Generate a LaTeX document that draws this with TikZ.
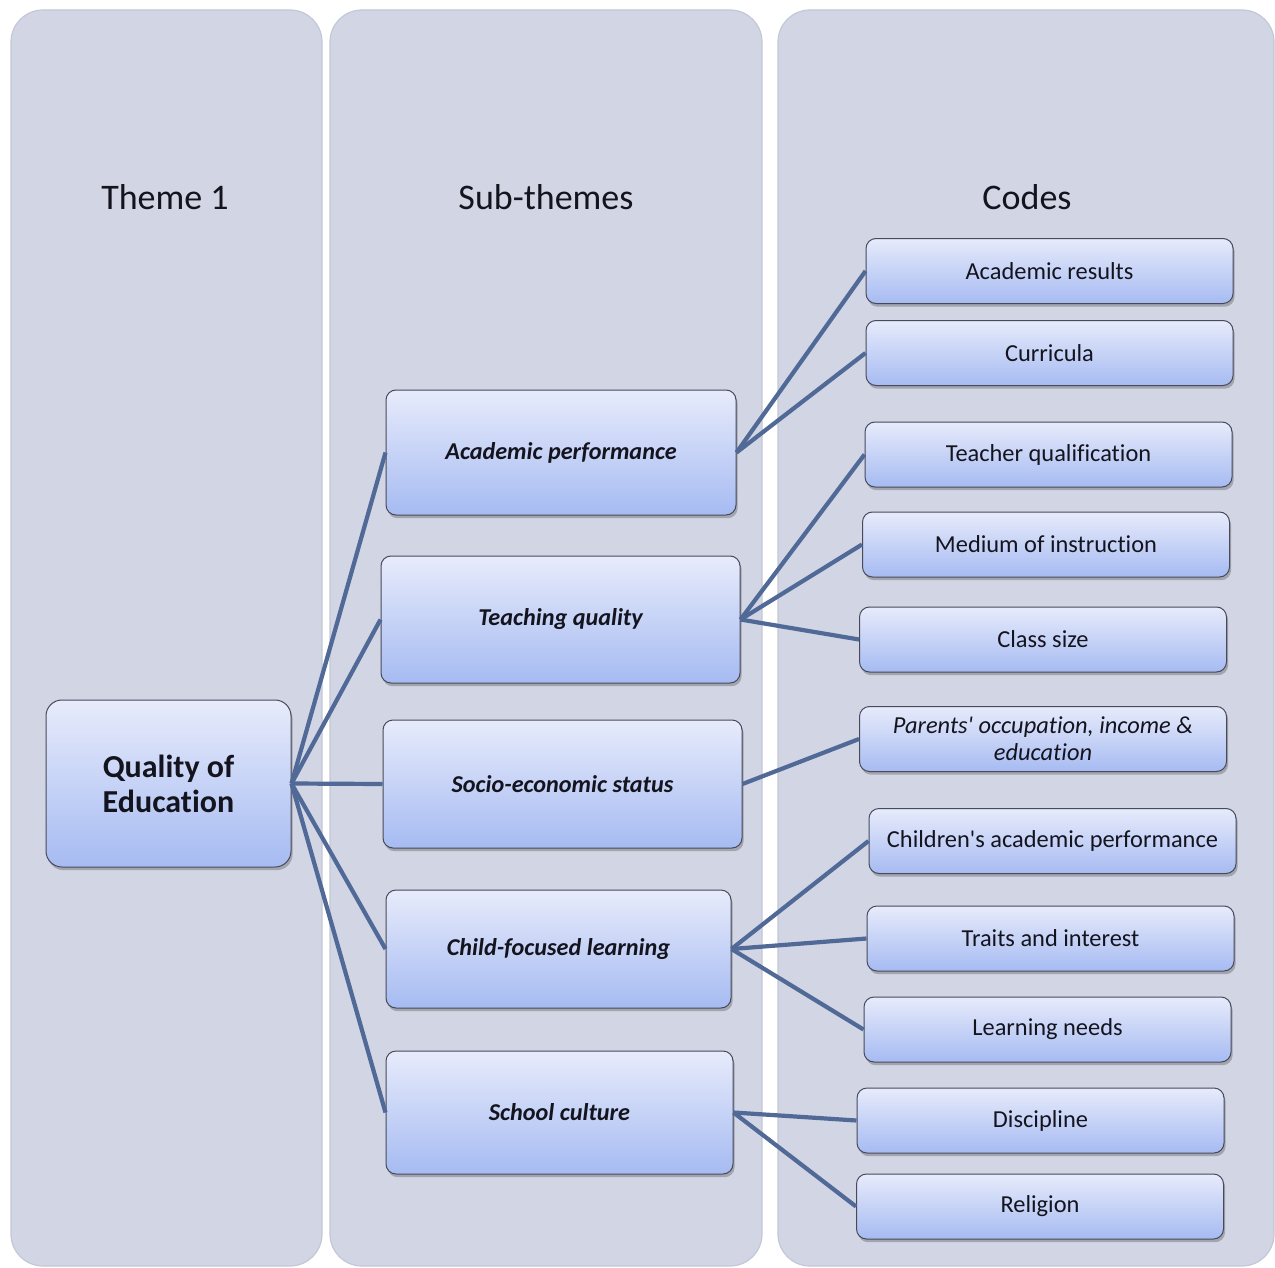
\documentclass[tikz,border=0pt]{standalone}
\usepackage{fontspec}
\setmainfont{Carlito}[Ligatures={NoCommon,TeXOff}]
\usetikzlibrary{shadows}

\definecolor{colbg}{RGB}{209,213,228}
\definecolor{coledge}{RGB}{196,200,214}
\definecolor{linkc}{RGB}{80,105,150}
\definecolor{boxtop}{RGB}{231,235,251}
\definecolor{boxbot}{RGB}{166,187,242}
\definecolor{boxline}{RGB}{72,74,90}
\definecolor{ink}{RGB}{20,20,30}

\begin{document}
\begin{tikzpicture}[x=0.5pt,y=-0.5pt,
  lane/.style={fill=colbg, draw=coledge, line width=0.6pt, rounded corners=16pt},
  lanehead/.style={font=\fontsize{18}{21}\selectfont, text=ink},
  box/.style={draw=boxline, line width=0.5pt, rounded corners=5pt,
    top color=boxtop, bottom color=boxbot, align=center, inner sep=2pt,
    text=ink,
    drop shadow={shadow xshift=0.8pt, shadow yshift=-1.6pt, opacity=0.35, fill=black!70}},
  rootbox/.style={box, rounded corners=8pt, font=\bfseries\fontsize{16}{17.5}\selectfont},
  subbox/.style={box, font=\bfseries\itshape\fontsize{12.1}{14}\selectfont},
  codebox/.style={box, font=\fontsize{12.2}{13.5}\selectfont,
    minimum width=183.5pt, minimum height=32.5pt},
  link/.style={draw=linkc, line width=2.1pt}
]
% canvas
\useasboundingbox (0,0) rectangle (1275,1268);
\fill[white] (0,0) rectangle (1275,1268);

% column lanes
\draw[lane] (11,10) rectangle (322,1266);
\draw[lane] (330,10) rectangle (762,1266);
\draw[lane] (778,10) rectangle (1274,1266);

\node[lanehead] (h1) at (165,197) {Theme 1};
\node[lanehead] (h2) at (546,197) {Sub-themes};
\node[lanehead] (h3) at (1027,197) {Codes};

% theme
\node[rootbox, minimum width=122.5pt, minimum height=83.5pt] (q) at (168.5,783.5) {Quality of\\Education};

% sub-themes
\node[subbox, minimum width=175pt, minimum height=62.5pt] (s1) at (561,452.5) {Academic performance};
\node[subbox, minimum width=179.5pt, minimum height=63.5pt] (s2) at (560.5,619.5) {Teaching quality};
\node[subbox, minimum width=179.5pt, minimum height=64pt] (s3) at (562.5,784) {Socio-economic status};
\node[subbox, minimum width=172.5pt, minimum height=59pt] (s4) at (558.5,949) {Child-focused learning};
\node[subbox, minimum width=173.5pt, minimum height=61.5pt] (s5) at (559.5,1112.5) {School culture};

% codes
\node[codebox] (c1) at (1049.5,271) {Academic results};
\node[codebox] (c2) at (1049.5,353) {Curricula};
\node[codebox] (c3) at (1048.5,454.5) {Teacher qualification};
\node[codebox] (c4) at (1046,544.5) {Medium of instruction};
\node[codebox] (c5) at (1043,639.5) {Class size};
\node[codebox, font=\itshape\fontsize{12.2}{13.5}\selectfont] (c6) at (1043,739) {Parents' occupation, income \&\\education};
\node[codebox] (c7) at (1052.5,841) {Children's academic performance};
\node[codebox] (c8) at (1050.5,938.5) {Traits and interest};
\node[codebox] (c9) at (1047.5,1029.5) {Learning needs};
\node[codebox] (c10) at (1040.5,1120.5) {Discipline};
\node[codebox] (c11) at (1040,1206.5) {Religion};

% connectors
\foreach \s in {s1,s2,s3,s4,s5} \draw[link] (q.east) -- (\s.west);
\draw[link] (s1.east) -- (c1.west);
\draw[link] (s1.east) -- (c2.west);
\draw[link] (s2.east) -- (c3.west);
\draw[link] (s2.east) -- (c4.west);
\draw[link] (s2.east) -- (c5.west);
\draw[link] (s3.east) -- (c6.west);
\draw[link] (s4.east) -- (c7.west);
\draw[link] (s4.east) -- (c8.west);
\draw[link] (s4.east) -- (c9.west);
\draw[link] (s5.east) -- (c10.west);
\draw[link] (s5.east) -- (c11.west);
\end{tikzpicture}
\end{document}
